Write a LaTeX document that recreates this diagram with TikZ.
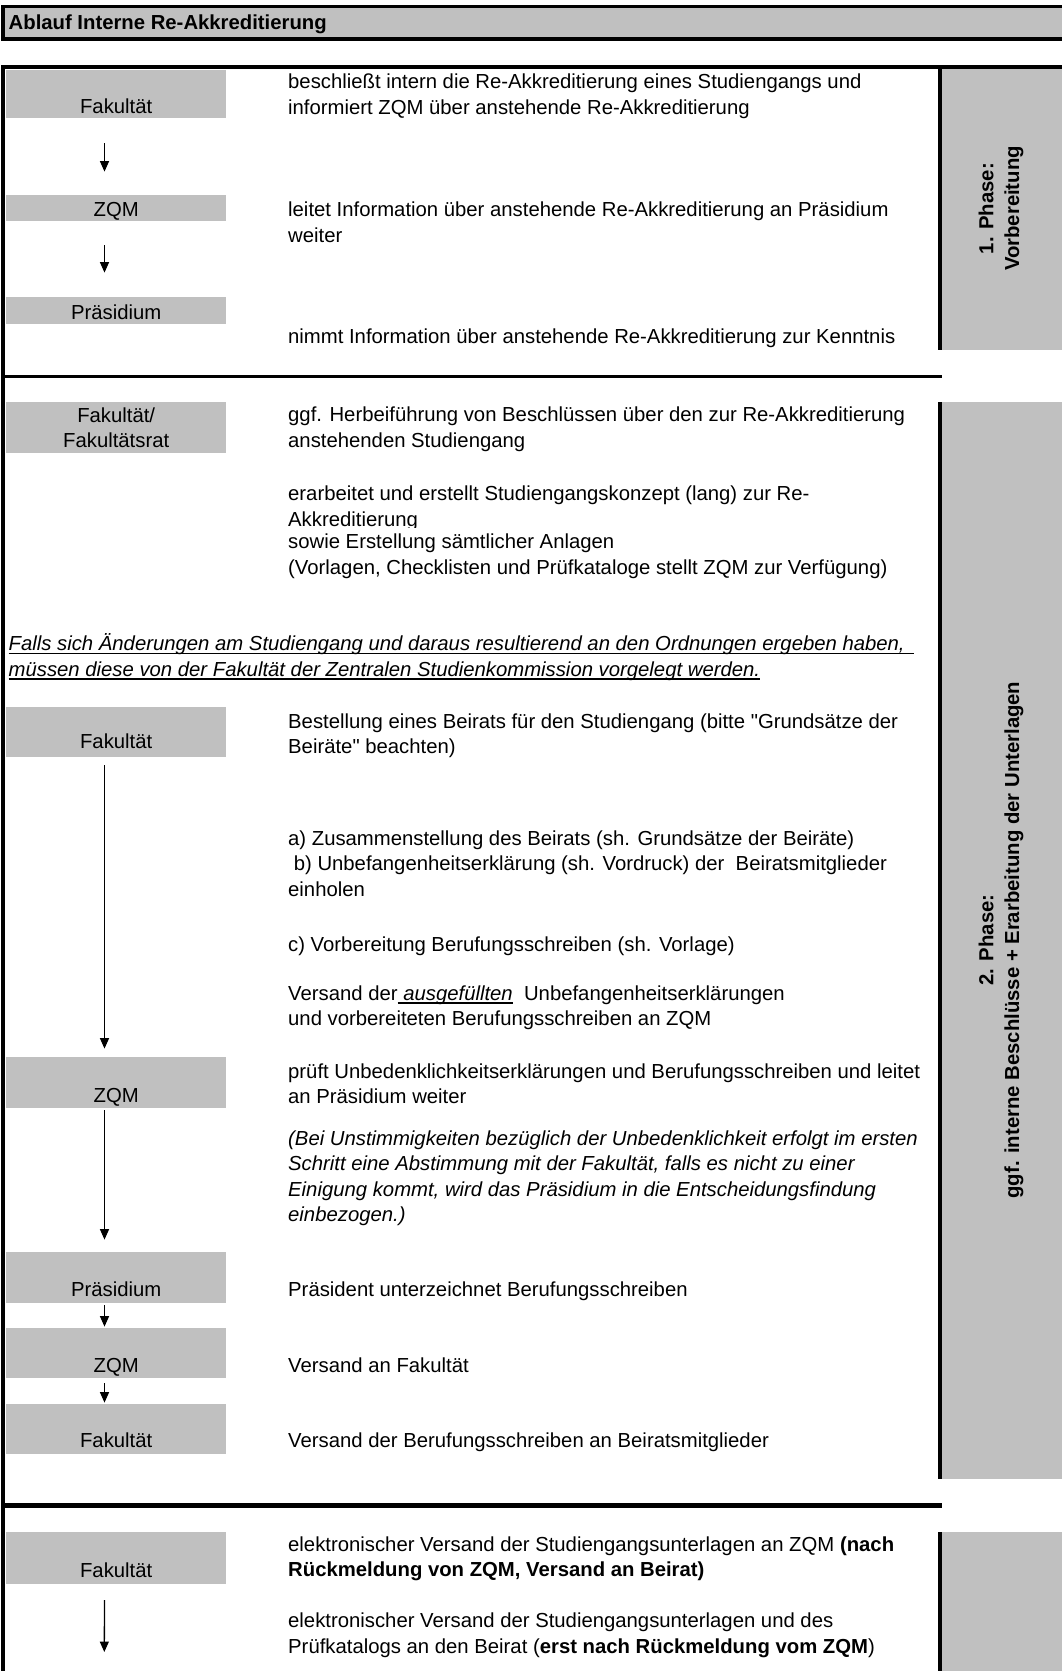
\documentclass[tikz,border=0pt]{standalone}
\usepackage{fontspec}
\setmainfont{Liberation Sans}
\usetikzlibrary{arrows.meta}
\definecolor{cellgray}{HTML}{C0C0C0}
\newcommand\bodysize{\fontsize{20.3pt}{25.6pt}\selectfont}
\newcommand\myul[1]{\setbox0=\hbox{#1}\rlap{\rule[-3.5pt]{\wd0}{1.2pt}}\box0}
\newcommand\strq{\XeTeXglyph\XeTeXcharglyph"0022\relax}
\begin{document}
\begin{tikzpicture}[x=1pt,y=-1pt,
  actor/.style={anchor=south west, fill=cellgray, inner sep=0pt, minimum width=220pt, font=\bodysize},
  txt/.style={anchor=base west, inner sep=0pt, font=\bodysize},
  itxt/.style={anchor=base west, inner sep=0pt, font=\bodysize\itshape},
  flow/.style={-{Triangle[length=10.5pt,width=9pt]}, line width=1.3pt},
  frame/.style={line width=3.5pt},
  phase/.style={rotate=90, align=center, inner sep=0pt, font=\bodysize\bfseries}]
\useasboundingbox (0,0) rectangle (1062,1671);
\fill[white] (0,0) rectangle (1062,1671);
\clip (0,0) rectangle (1062,1671);

% title bar
\draw[frame, fill=cellgray] (3,6.5) rectangle (1075,39);
\node[anchor=base west, inner sep=0pt, font=\bodysize\bfseries] (title) at (8.5,29.5) {Ablauf Interne Re-Akkreditierung};

% phase columns
\fill[cellgray] (942,67) rectangle (1075,350);
\fill[cellgray] (942,402) rectangle (1075,1479);
\fill[cellgray] (942,1532) rectangle (1075,1680);
\draw[frame] (940,67) -- (940,350);
\draw[frame] (940,402) -- (940,1479);
\draw[frame] (940,1532) -- (940,1680);

% main frame
\draw[frame] (1075,67) -- (3,67) -- (3,1680);
\draw[frame] (3,376.5) -- (941.5,376.5);
\draw[line width=4.5pt] (3,1505.5) -- (941.5,1505.5);

% phase labels
\node[phase] (ph1) at (1001,208.5) {1. Phase:\\Vorbereitung};
\node[phase] (ph2) at (1001,940) {2. Phase:\\ggf. interne Beschlüsse + Erarbeitung der Unterlagen};

% actors, phase 1
\node[actor, text height=44pt, text depth=4pt] (f1) at (6,118) {Fakultät};
\node[actor, text height=21.5pt, text depth=4.5pt] (z1) at (6,221) {ZQM};
\node[actor, text height=22.5pt, text depth=4.5pt] (p1) at (6,324) {Präsidium};

% actors, phase 2
\node[anchor=north west, fill=cellgray, inner sep=0pt, minimum width=220pt, minimum height=51pt, align=center, font=\bodysize] (ff) at (6,402) {Fakultät/\\Fakultätsrat};
\node[actor, text height=42pt, text depth=8pt] (f2) at (6,757) {Fakultät};
\node[actor, text height=45.5pt, text depth=5.5pt] (z2) at (6,1108) {ZQM};
\node[actor, text height=44.5pt, text depth=6.5pt] (p2) at (6,1303) {Präsidium};
\node[actor, text height=44.5pt, text depth=5.5pt] (z3) at (6,1378) {ZQM};
\node[actor, text height=43.5pt, text depth=6.5pt] (f3) at (6,1454) {Fakultät};

% actors, phase 3
\node[actor, text height=46pt, text depth=6pt] (f4) at (6,1584) {Fakultät};
\coordinate (a7end) at (104.3,1652);

% arrows
\draw[flow] ([xshift=-11.7pt,yshift=-25pt]f1.south) -- ([xshift=-11.7pt,yshift=23pt]z1.north);
\draw[flow] ([xshift=-11.7pt,yshift=-24pt]z1.south) -- ([xshift=-11.7pt,yshift=24pt]p1.north);
\draw[flow] ([xshift=-11.7pt,yshift=-8pt]f2.south) -- ([xshift=-11.7pt,yshift=8pt]z2.north);
\draw[flow] ([xshift=-11.7pt,yshift=-2pt]z2.south) -- ([xshift=-11.7pt,yshift=12pt]p2.north);
\draw[flow] ([xshift=-11.7pt,yshift=-2pt]p2.south) -- ([xshift=-11.7pt,yshift=1pt]z3.north);
\draw[flow] ([xshift=-11.7pt,yshift=-5pt]z3.south) -- ([xshift=-11.7pt,yshift=1pt]f3.north);
\draw[flow] ([xshift=-11.7pt,yshift=-16pt]f4.south) -- (a7end);

% texts phase 1
\node[txt] (t1a) at (288,88.5) {beschließt intern die Re-Akkreditierung eines Studiengangs und};
\node[txt] (t1b) at (288,114) {informiert ZQM über anstehende Re-Akkreditierung};
\node[txt] (t2a) at (288,216.5) {leitet Information über anstehende Re-Akkreditierung an Präsidium};
\node[txt] (t2b) at (288,242) {weiter};
\node[txt] (t3) at (288,343.5) {nimmt Information über anstehende Re-Akkreditierung zur Kenntnis};

% texts phase 2
\node[txt] (t4a) at (288,421.5) {ggf. Herbeiführung von Beschlüssen über den zur Re-Akkreditierung};
\node[txt] (t4b) at (288,447) {anstehenden Studiengang};
\node[txt] (t5a) at (288,500.5) {erarbeitet und erstellt Studiengangskonzept (lang) zur Re-};
\begin{scope}
\clip (280,505) rectangle (940,527.5);
\node[txt] (t5b) at (288,526.5) {Akkreditierung};
\end{scope}
\node[txt] (t5c) at (288,548.5) {sowie Erstellung sämtlicher Anlagen};
\node[txt] (t5d) at (288,574) {(Vorlagen, Checklisten und Prüfkataloge stellt ZQM zur Verfügung)};

\node[itxt] (n1a) at (8.5,650.5) {\myul{Falls sich Änderungen am Studiengang und daraus resultierend an den Ordnungen ergeben haben,\ \,}};
\node[itxt] (n1b) at (8.5,676) {\myul{müssen diese von der Fakultät der Zentralen Studienkommission vorgelegt werden.}};

\node[txt] (t6a) at (288,728) {Bestellung eines Beirats für den Studiengang (bitte \strq Grundsätze der};
\node[txt] (t6b) at (288,753.6) {Beiräte\strq{} beachten)};
\node[txt] (t7a) at (288,845) {a) Zusammenstellung des Beirats (sh. Grundsätze der Beiräte)};
\node[txt] (t7b) at (288,870.6) {\ b) Unbefangenheitserklärung (sh. Vordruck) der\ \ Beiratsmitglieder};
\node[txt] (t7c) at (288,896.2) {einholen};
\node[txt] (t8) at (288,951.5) {c) Vorbereitung Berufungsschreiben (sh. Vorlage)};
\node[txt] (t9a) at (288,1000) {Versand der\myul{\itshape\ ausgefüllten\/}\ \ Unbefangenheitserklärungen};
\node[txt] (t9b) at (288,1025.6) {und vorbereiteten Berufungsschreiben an ZQM};
\node[txt] (t10a) at (288,1078) {prüft Unbedenklichkeitserklärungen und Berufungsschreiben und leitet};
\node[txt] (t10b) at (288,1103.6) {an Präsidium weiter};
\node[itxt] (t11a) at (288,1145) {(Bei Unstimmigkeiten bezüglich der Unbedenklichkeit erfolgt im ersten};
\node[itxt] (t11b) at (288,1170.6) {Schritt eine Abstimmung mit der Fakultät, falls es nicht zu einer};
\node[itxt] (t11c) at (288,1196.2) {Einigung kommt, wird das Präsidium in die Entscheidungsfindung};
\node[itxt] (t11d) at (288,1221.8) {einbezogen.)};
\node[txt] (t12) at (288,1296.5) {Präsident unterzeichnet Berufungsschreiben};
\node[txt] (t13) at (288,1372.5) {Versand an Fakultät};
\node[txt] (t14) at (288,1447.5) {Versand der Berufungsschreiben an Beiratsmitglieder};

% texts phase 3
\node[txt] (t15a) at (288,1551) {elektronischer Versand der Studiengangsunterlagen an ZQM \textbf{(nach}};
\node[txt] (t15b) at (288,1576.6) {\textbf{Rückmeldung von ZQM, Versand an Beirat)}};
\node[txt] (t16a) at (288,1627.5) {elektronischer Versand der Studiengangsunterlagen und des};
\node[txt] (t16b) at (288,1653) {Prüfkatalogs an den Beirat (\textbf{erst nach Rückmeldung vom ZQM})};
\end{tikzpicture}
\end{document}
